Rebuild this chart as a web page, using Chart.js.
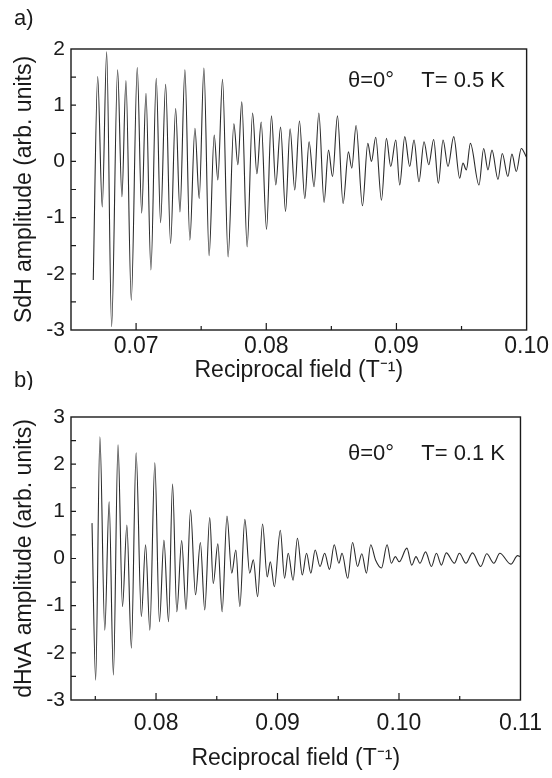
<!DOCTYPE html>
<html><head><meta charset="utf-8">
<script src="https://cdn.jsdelivr.net/npm/chart.js@4.4.1/dist/chart.umd.min.js"></script>
<style>
html,body{margin:0;padding:0;background:#fff;}
#wrap{position:relative;width:552px;height:778px;overflow:hidden;background:#fff;}
.c{position:absolute;left:0;}
</style></head><body>
<div id="wrap">
<div class="c" style="top:0;"><canvas id="cA" width="552" height="390"></canvas></div>
<div class="c" style="top:390px;"><canvas id="cB" width="552" height="388"></canvas></div>
</div>
<script>
// ---- Panel a) SdH, T = 0.5 K ----
const sdhField = [0.06671,0.06705,0.06740,0.06774,0.06812,0.06858,0.06891,0.06922,0.06963,0.07009,
0.07043,0.07076,0.07114,0.07155,0.07188,0.07227,0.07265,0.07304,0.07337,0.07375,
0.07413,0.07452,0.07485,0.07521,0.07561,0.07600,0.07628,0.07664,0.07707,0.07751,
0.07782,0.07812,0.07853,0.07895,0.07928,0.07961,0.08002,0.08040,0.08073,0.08110,
0.08148,0.08183,0.08219,0.08255,0.08296,0.08329,0.08367,0.08404,0.08444,0.08478,
0.08509,0.08547,0.08590,0.08631,0.08657,0.08690,0.08739,0.08780,0.08808,0.08841,
0.08885,0.08923,0.08956,0.08995,0.09025,0.09064,0.09102,0.09135,0.09173,0.09212,
0.09248,0.09286,0.09322,0.09358,0.09396,0.09440,0.09486,0.09511,0.09537,0.09568,
0.09634,0.09670,0.09703,0.09734,0.09780,0.09813,0.09856,0.09887,0.09921,0.09959,
0.09998];
const sdhAmplitude = [-2.11,1.51,-0.81,1.95,-2.94,1.63,-0.63,1.44,-2.47,1.67,
-0.92,1.21,-1.93,1.48,-1.09,1.37,-1.46,0.94,-0.90,1.63,
-1.40,0.59,-0.66,1.66,-1.68,0.47,-0.33,1.46,-1.70,0.67,
-0.06,1.06,-1.52,0.86,-0.22,0.70,-1.21,0.81,-0.42,0.61,
-0.89,0.58,-0.51,0.72,-0.66,0.35,-0.45,0.86,-0.73,0.20,
-0.27,0.81,-0.75,0.17,-0.12,0.64,-0.79,0.32,0.00,0.43,
-0.69,0.41,-0.09,0.38,-0.42,0.44,-0.09,0.38,-0.36,0.35,
-0.06,0.39,-0.39,0.38,-0.09,0.44,-0.30,-0.03,-0.15,0.32,
-0.42,0.23,-0.15,0.20,-0.32,0.14,-0.27,0.13,-0.18,0.23,
0.08];
const xLabelsA = ['0.07','0.08','0.09','0.10'];
const yLabelsA = ['2','1','0','-1','-2','-3'];

// ---- Panel b) dHvA, T = 0.1 K ----
const dhvaField = [0.07473,0.07503,0.07538,0.07578,0.07614,0.07649,0.07687,0.07724,0.07760,0.07797,
0.07836,0.07879,0.07914,0.07949,0.07990,0.08028,0.08065,0.08103,0.08136,0.08171,
0.08211,0.08247,0.08284,0.08325,0.08365,0.08401,0.08442,0.08471,0.08509,0.08544,
0.08584,0.08623,0.08657,0.08690,0.08731,0.08771,0.08801,0.08836,0.08877,0.08915,
0.08941,0.08974,0.09023,0.09058,0.09088,0.09128,0.09164,0.09204,0.09239,0.09274,
0.09310,0.09350,0.09388,0.09428,0.09467,0.09505,0.09531,0.09578,0.09618,0.09659,
0.09694,0.09732,0.09767,0.09807,0.09856,0.09902,0.09937,0.09970,0.10002,0.10065,
0.10105,0.10140,0.10172,0.10219,0.10267,0.10308,0.10349,0.10389,0.10456,0.10497,
0.10551,0.10605,0.10673,0.10722,0.10781,0.10830,0.10921,0.10976,0.10998];
const dhvaAmplitude = [0.75,-2.58,2.58,-1.52,1.20,-2.47,2.41,-1.02,0.71,-1.90,
2.24,-1.23,0.29,-1.52,2.03,-1.34,0.39,-1.34,1.58,-1.13,
0.38,-1.08,1.03,-0.77,0.34,-1.09,0.87,-0.53,0.31,-1.13,
0.90,-0.31,0.18,-1.02,0.83,-0.31,-0.03,-0.81,0.73,-0.39,
-0.07,-0.60,0.60,-0.42,0.11,-0.46,0.43,-0.35,0.11,-0.31,
0.18,-0.17,0.11,-0.23,0.29,-0.10,0.11,-0.42,0.34,-0.17,
0.10,-0.31,0.29,-0.03,-0.20,0.29,-0.10,0.04,-0.07,0.22,
-0.14,0.04,-0.10,0.14,-0.17,0.11,-0.14,0.12,-0.10,0.11,
-0.10,0.12,-0.17,0.10,-0.10,0.11,-0.12,0.06,0.04];
const xLabelsB = ['0.08','0.09','0.10','0.11'];
const yLabelsB = ['3','2','1','0','-1','-2','-3'];

const FONT = 'Liberation Sans, Arial, Helvetica, sans-serif';
const INK = '#1a1a1a';

function labelFor(list, v){
  for (const s of list){ if (Math.abs(parseFloat(s) - v) < 1e-7) return s; }
  return '';
}

const framePlugin = {
  id: 'frame',
  afterDraw(chart, args, o){
    const {ctx, chartArea:{left,top,right,bottom}, scales:{x,y}} = chart;
    ctx.save();
    ctx.strokeStyle = INK;
    ctx.lineWidth = 1.4;
    ctx.strokeRect(left, top, right-left, bottom-top);
    ctx.lineWidth = 1.2;
    ctx.beginPath();
    x.ticks.forEach(t => {
      const px = x.getPixelForValue(t.value);
      if (px < left+1 || px > right-1) return;
      const major = labelFor(o.xl, t.value) !== '';
      ctx.moveTo(px, bottom); ctx.lineTo(px, bottom - (major ? 7 : 4));
    });
    y.ticks.forEach(t => {
      const py = y.getPixelForValue(t.value);
      if (py < top+1 || py > bottom-1) return;
      ctx.moveTo(left, py); ctx.lineTo(left + 5, py);
    });
    ctx.stroke();
    ctx.fillStyle = INK;
    ctx.font = '22px ' + FONT;
    ctx.textBaseline = 'alphabetic';
    ctx.textAlign = 'left';
    ctx.fillText('\u03B8=0\u00B0', 348, top + o.annDy);
    ctx.textAlign = 'right';
    ctx.fillText('T= ' + o.temp + ' K', 505, top + o.annDy);
    if (o.panel){
      ctx.textAlign = 'left';
      ctx.font = '22px ' + FONT;
      ctx.fillText(o.panel, 14, o.panelY);
    }
    ctx.restore();
  }
};

function makeChart(id, xs, ys, xMin, xMax, yMin, yMax, xl, yl, yTitle, padTop, xAxisH, tickPad, frameOpts){
  const pts = xs.map((v,i)=>({x:v, y:ys[i]}));
  return new Chart(document.getElementById(id), {
    type: 'line',
    data: { datasets: [{ data: pts, borderColor: '#2b2b2b', borderWidth: 1.1, pointRadius: 0, fill: false,
      cubicInterpolationMode: 'monotone' }] },
    options: {
      responsive: false, animation: false, devicePixelRatio: 1,
      layout: { padding: { left: 0, right: 25, top: padTop, bottom: 0 } },
      plugins: { legend: {display:false}, tooltip: {enabled:false}, frame: frameOpts },
      scales: {
        x: { type: 'linear', min: xMin, max: xMax,
          grid: {display:false, drawTicks:false}, border: {display:false},
          ticks: { stepSize: 0.005, includeBounds: false, autoSkip: false, maxRotation: 0, padding: tickPad,
            color: INK, font: {family: FONT, size: 23},
            callback: v => labelFor(xl, v) },
          title: { display: true, text: 'Reciprocal field (T\u207B\u00B9)', color: INK,
            font: {family: FONT, size: 23}, padding: {top: 0, bottom: 6} },
          afterFit: s => { s.height = xAxisH; } },
        y: { type: 'linear', min: yMin, max: yMax,
          grid: {display:false, drawTicks:false}, border: {display:false},
          ticks: { stepSize: 0.5, autoSkip: false, padding: 6, color: INK, font: {family: FONT, size: 21},
            callback: v => labelFor(yl, v) },
          title: { display: true, text: yTitle, color: INK, font: {family: FONT, size: 23},
            padding: {top: 11, bottom: 0} },
          afterFit: s => { s.width = 71; } }
      }
    },
    plugins: [framePlugin]
  });
}

makeChart('cA', sdhField, sdhAmplitude, 0.065, 0.10, -3, 2, xLabelsA, yLabelsA,
  'SdH amplitude (arb. units)', 49, 60, 3,
  {xl: xLabelsA, annDy: 38, temp: '0.5', panel: 'a)', panelY: 25});
makeChart('cB', dhvaField, dhvaAmplitude, 0.073, 0.11, -3, 3, xLabelsB, yLabelsB,
  'dHvA amplitude (arb. units)', 27, 78, 10,
  {xl: xLabelsB, annDy: 43, temp: '0.1', panel: null});
// panel letter b) sits just above panel b's frame, drawn on the top canvas
Chart.getChart('cA').options.plugins.frame.panelB = 'b)';
(function(){
  const c = document.getElementById('cA').getContext('2d');
  c.save(); c.fillStyle = INK; c.font = '22px ' + FONT; c.textBaseline = 'alphabetic';
  c.fillText('b)', 14, 387); c.restore();
})();
</script>
</body></html>
